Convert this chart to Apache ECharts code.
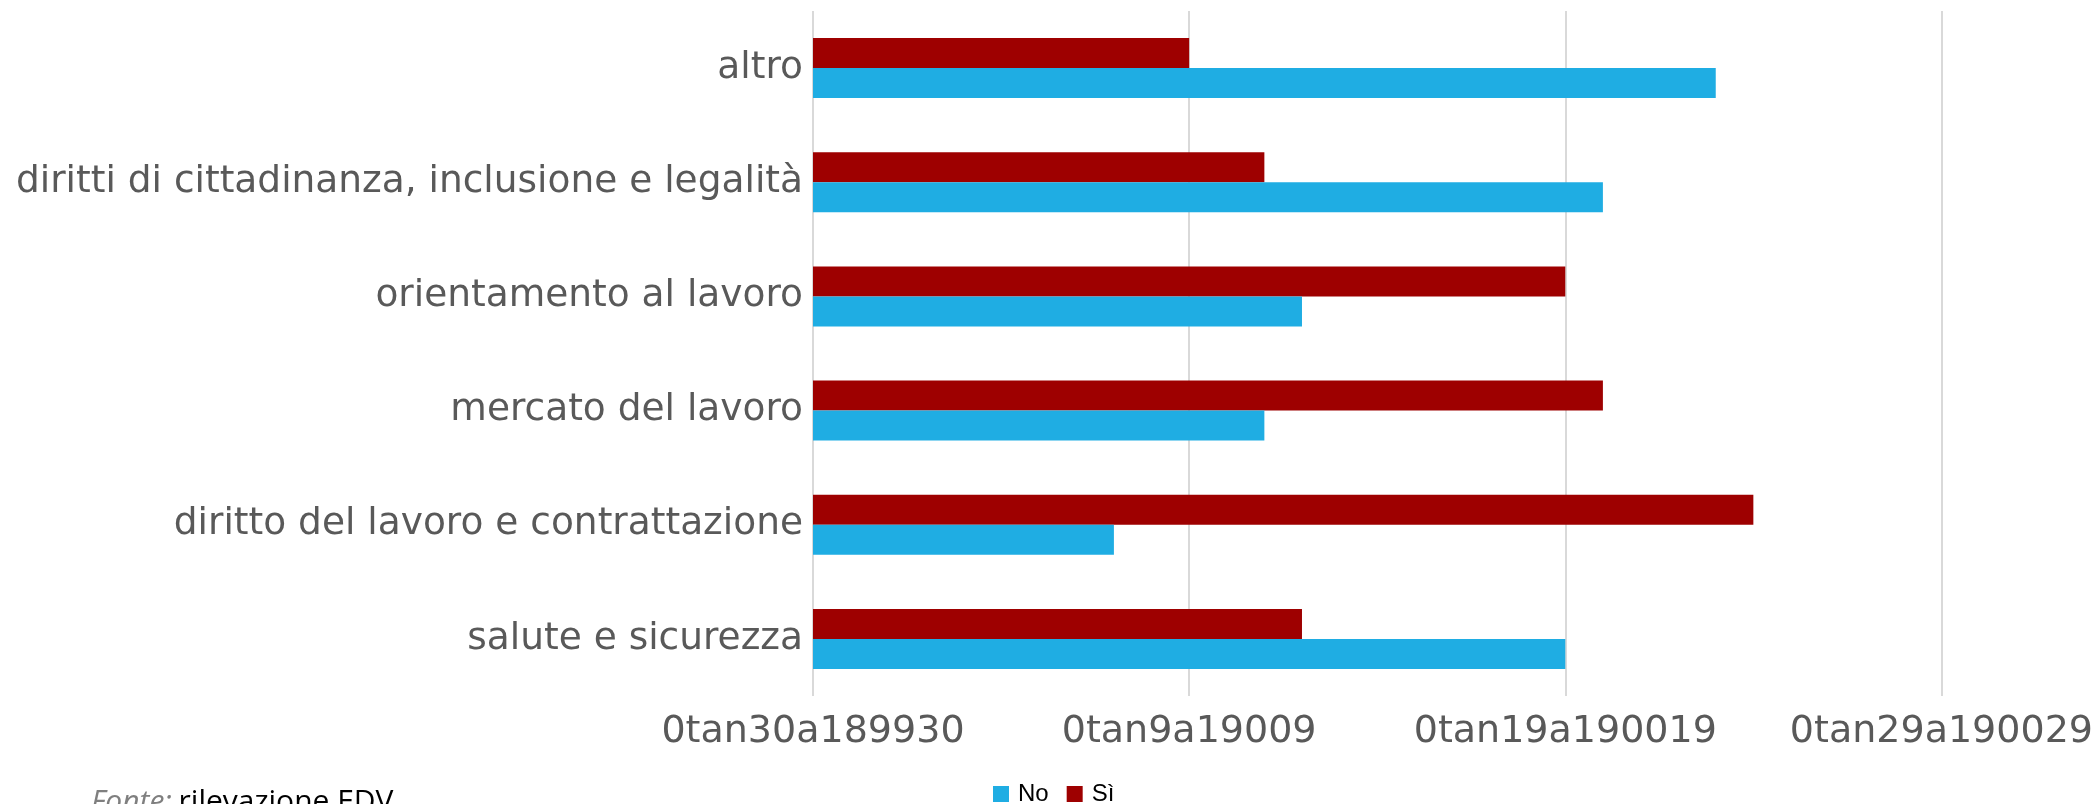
<!DOCTYPE html>
<html>
<head>
<meta charset="utf-8">
<script src="https://cdn.jsdelivr.net/npm/echarts@6/dist/echarts.min.js"></script>
<style>
  html, body { margin: 0; padding: 0; background: #fff; }
  #chart { width: 2096px; height: 804px; }
</style>
</head>
<body>
<div id="chart"></div>
<script>
// categories bottom -> top (category axis starts at the bottom)
const categories = [
  'salute e sicurezza',
  'diritto del lavoro e contrattazione',
  'mercato del lavoro',
  'orientamento al lavoro',
  'diritti di cittadinanza, inclusione e legalità',
  'altro'
];
const noValues = [20, 8, 12, 13, 21, 24];
const siValues = [13, 25, 21, 20, 12, 10];
const tickValues = [0, 10, 20, 30];
const tickLabels = ['0tan30a189930', '0tan9a19009', '0tan19a190019', '0tan29a190029'];

const chart = echarts.init(document.getElementById('chart'));
chart.setOption({
  backgroundColor: '#fff',
  animation: false,
  grid: { left: 813, right: 154, top: 11, bottom: 108, containLabel: false },
  legend: {
    data: ['No', 'Sì'],
    left: 993,
    top: 782,
    padding: 0,
    itemWidth: 16,
    itemHeight: 16,
    itemGap: 18,
    icon: 'rect',
    textStyle: { fontFamily: 'Liberation Sans', fontSize: 24, color: '#000', padding: [0, 0, 0, 4] }
  },
  xAxis: {
    type: 'value',
    min: 0,
    max: 30,
    interval: 10,
    axisLine: { show: false },
    axisTick: { show: false },
    splitLine: { lineStyle: { color: '#d9d9d9', width: 2 } },
    axisLabel: {
      color: '#595959',
      fontFamily: 'DejaVu Sans',
      fontSize: 38,
      margin: 17,
      formatter: (v) => {
        const i = tickValues.indexOf(v);
        return i >= 0 ? tickLabels[i] : '';
      }
    }
  },
  yAxis: {
    type: 'category',
    data: categories,
    axisLine: { show: false },
    axisTick: { show: false },
    axisLabel: {
      color: '#595959',
      fontFamily: 'DejaVu Sans',
      fontSize: 37.5,
      margin: 10,
      padding: [8, 0, 0, 0]
    }
  },
  // Sì listed first so it sits above No inside each band
  series: [
    { name: 'Sì', type: 'bar', data: siValues, barWidth: 30, barGap: '0%', itemStyle: { color: '#9e0000' } },
    { name: 'No', type: 'bar', data: noValues, barWidth: 30, barGap: '0%', itemStyle: { color: '#1fade3' } }
  ],
  graphic: [
    {
      type: 'text',
      left: 91,
      top: 787,
      style: {
        text: '{a|Fonte:}  {b|rilevazione EDV}',
        rich: {
          a: { fontFamily: 'Open Sans', fontSize: 30, fontStyle: 'italic', fill: '#7f7f7f' },
          b: { fontFamily: 'Open Sans', fontSize: 30, fill: '#000' }
        }
      }
    }
  ]
});
</script>
</body>
</html>
